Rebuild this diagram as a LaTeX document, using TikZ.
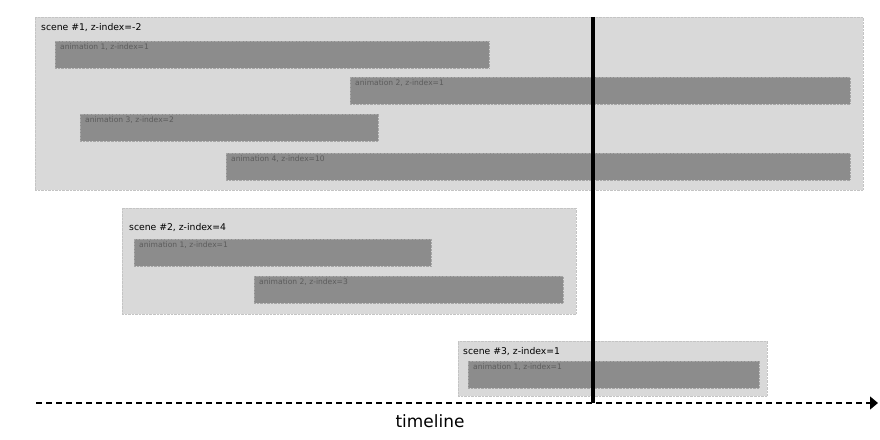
\documentclass[tikz,border=0pt]{standalone}
\usepackage{fontspec}
\setmainfont{DejaVu Sans}
\usepackage{tikz}
\usetikzlibrary{positioning, arrows, arrows.meta}

\definecolor{scenefill}{HTML}{D9D9D9}
\definecolor{sceneline}{HTML}{C4C4C4}
\definecolor{animfill}{HTML}{8C8C8C}
\definecolor{animline}{HTML}{A6A6A6}
\definecolor{animtext}{HTML}{5C5C5C}

\begin{document}
\begin{tikzpicture}[>=latex', x=1bp, y=-1bp,
    scenebox/.style={rectangle, fill=scenefill, draw=sceneline, densely dotted,
      inner sep=0pt, outer sep=0pt, anchor=north west},
    animbox/.style={rectangle, fill=animfill, draw=animline, densely dotted,
      inner sep=0pt, outer sep=0pt, anchor=north west, minimum height=27bp},
    scenelabel/.style={inner sep=0pt, font=\fontsize{9.3}{11}\selectfont},
    animlabel/.style={inner sep=0pt, text=animtext, font=\fontsize{7.6}{9}\selectfont}]
  \useasboundingbox (0,0) rectangle (880,440);
%%
  % Scene: 1
  \node[scenebox, minimum width=828bp, minimum height=173bp] (s1) at (35,17) {};
  \node[scenelabel, below right=6.5bp and 6bp of s1.north west] (s1l) {scene \#1, z-index=-2};
  \node[animbox, minimum width=434bp] (s1a1) at (55,41) {};
  \node[animlabel, below right=3bp and 5bp of s1a1.north west] {animation 1, z-index=1};
  \node[animbox, minimum width=500bp] (s1a2) at (350,77) {};
  \node[animlabel, below right=3bp and 5bp of s1a2.north west] {animation 2, z-index=1};
  \node[animbox, minimum width=298bp] (s1a3) at (80,114) {};
  \node[animlabel, below right=3bp and 5bp of s1a3.north west] {animation 3, z-index=2};
  \node[animbox, minimum width=624bp] (s1a4) at (226,153) {};
  \node[animlabel, below right=3bp and 5bp of s1a4.north west] {animation 4, z-index=10};
  % Scene: 2
  \node[scenebox, minimum width=454bp, minimum height=106bp] (s2) at (122,208) {};
  \node[scenelabel, below right=15bp and 7bp of s2.north west] (s2l) {scene \#2, z-index=4};
  \node[animbox, minimum width=297bp] (s2a1) at (134,239) {};
  \node[animlabel, below right=3bp and 5bp of s2a1.north west] {animation 1, z-index=1};
  \node[animbox, minimum width=309bp] (s2a2) at (254,276) {};
  \node[animlabel, below right=3bp and 5bp of s2a2.north west] {animation 2, z-index=3};
  % Scene: 3
  \node[scenebox, minimum width=309bp, minimum height=55bp] (s3) at (458,341) {};
  \node[scenelabel, below right=6bp and 5bp of s3.north west] (s3l) {scene \#3, z-index=1};
  \node[animbox, minimum width=291bp] (s3a1) at (468,361) {};
  \node[animlabel, below right=3bp and 5bp of s3a1.north west] {animation 1, z-index=1};
  % Timeline
  \coordinate (tstart) at (36,403);
  \coordinate (tend) at (878,403);
  \coordinate (tmid) at (430,403);
  \coordinate (ntop) at (593,17);
  \coordinate (nbot) at (593,403);
  \draw[-{Triangle[length=8bp,width=13bp]}, line width=1.3bp, dash pattern=on 6bp off 4bp] (tstart) -- (tend);
  \draw[line width=3.5bp] (ntop) -- (nbot);
  \node[font=\fontsize{17}{20}\selectfont, inner sep=0pt, below=11bp of tmid] (tlabel) {timeline};
%
\end{tikzpicture}
\end{document}
